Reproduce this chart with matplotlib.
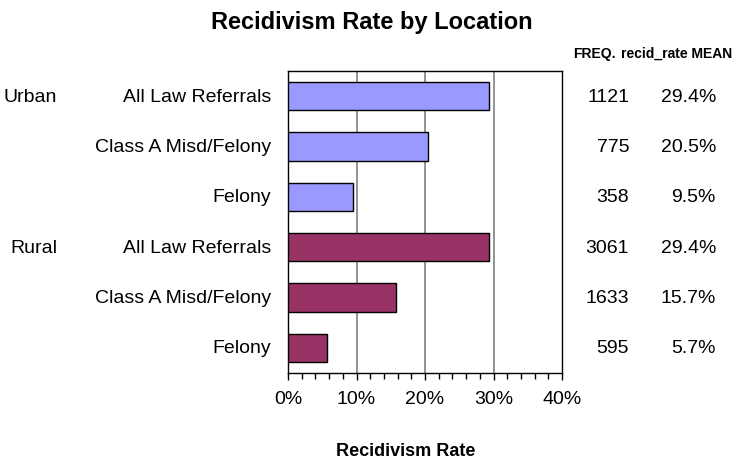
import matplotlib
matplotlib.use("Agg")
import matplotlib.pyplot as plt
from matplotlib.ticker import MultipleLocator, FuncFormatter

plt.rcParams['font.family'] = ['Liberation Sans', 'DejaVu Sans']

locations = ["Urban", "Rural"]
offenses = ["All Law Referrals", "Class A Misd/Felony", "Felony"]
urban_rate = [29.4, 20.5, 9.5]
rural_rate = [29.4, 15.7, 5.7]
urban_freq = [1121, 775, 358]
rural_freq = [3061, 1633, 595]
colors = {"Urban": "#9999FF", "Rural": "#993366"}

W, H = 738, 460
fig = plt.figure(figsize=(W / 100, H / 100), dpi=100)
L, R, T, B = 288, 562, 72, 374
ax = fig.add_axes([L / W, 1 - B / H, (R - L) / W, (B - T) / H])

rates = urban_rate + rural_rate
freqs = urban_freq + rural_freq
groups = ["Urban"] * 3 + ["Rural"] * 3
labels = offenses + offenses
n = len(rates)
ypos = list(range(n))

ax.barh(ypos, rates, height=0.56, color=[colors[g] for g in groups],
        edgecolor="black", linewidth=1.0, zorder=3)

ax.set_xlim(0, 40)
ax.set_ylim(n - 0.5, -0.5)
ax.xaxis.set_major_locator(MultipleLocator(10))
ax.xaxis.set_minor_locator(MultipleLocator(2))
ax.xaxis.set_major_formatter(FuncFormatter(lambda v, p: f"{v:.0f}%"))
ax.tick_params(axis="x", which="major", length=5, width=1, labelsize=14, pad=7)
ax.tick_params(axis="x", which="minor", length=4, width=1)
ax.set_yticks([])
for x in (10, 20, 30):
    ax.axvline(x, color="#808080", linewidth=1.2, zorder=1)
for s in ax.spines.values():
    s.set_color("black")
    s.set_linewidth(1.0)

fs = 14
trans = ax.get_yaxis_transform()
for i in ypos:
    ax.text(-0.062, i, labels[i], transform=trans, ha="right", va="center", fontsize=fs)
    ax.text(1.245, i, f"{freqs[i]}", transform=trans, ha="right", va="center", fontsize=fs)
    ax.text(1.562, i, f"{rates[i]:.1f}%", transform=trans, ha="right", va="center", fontsize=fs)

loc_x = (57 - L) / (R - L)
ax.text(loc_x, 0, locations[0], transform=trans, ha="right", va="center", fontsize=fs)
ax.text(loc_x, 3, locations[1], transform=trans, ha="right", va="center", fontsize=fs)

fig.text(573 / W, 1 - 54 / H, "FREQ.", ha="left", va="center", fontsize=10, fontweight="bold")
fig.text(621 / W, 1 - 54 / H, "recid_rate MEAN", ha="left", va="center", fontsize=10, fontweight="bold")

fig.text(372 / W, 1 - 23 / H, "Recidivism Rate by Location", ha="center", va="center",
         fontsize=17, fontweight="bold")
fig.text(406 / W, 1 - 452 / H, "Recidivism Rate", ha="center", va="center",
         fontsize=13, fontweight="bold")

fig.savefig("out.png", dpi=100)
